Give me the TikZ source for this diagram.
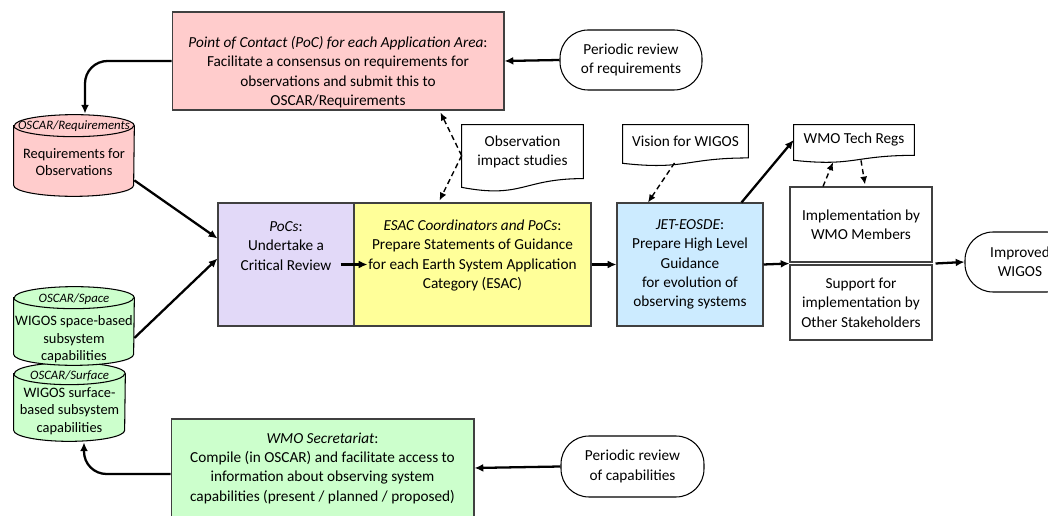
\documentclass[tikz,border=0pt]{standalone}
\usepackage{fontspec}
\setmainfont{Carlito}
\usetikzlibrary{calc,arrows.meta}
\definecolor{pocpink}{HTML}{FFCCCC}
\definecolor{poclilac}{HTML}{E2D9F8}
\definecolor{esacyellow}{HTML}{FFFF99}
\definecolor{jetblue}{HTML}{CCEBFF}
\definecolor{capgreen}{HTML}{CCFFCC}
\definecolor{edgegray}{HTML}{404040}
% document shape (wavy bottom) round a node
\def\docshape(#1)(#2){\draw[docline] (#1.north west) -- (#1.north east) -- (#1.south east) .. controls (#1.south) and ($(#1.south)+(0,#2*0.3055)$) .. ($(#1.south west)+(0,#2*0.132)$) -- cycle;}
% database cylinder round a node
\def\dbcyl[#1](#2)(#3:#4){%
  \draw[#1] ($(#2.north west)+(0,#4)$) -- ($(#2.south west)+(0,-#4)$) arc[start angle=180,end angle=360,x radius=#3,y radius=#4*0.02cm] -- ($(#2.north east)+(0,#4)$) arc[start angle=0,end angle=180,x radius=#3,y radius=#4*0.02cm] -- cycle;
  \draw[#1,fill=none] ($(#2.north west)+(0,#4)$) arc[start angle=180,end angle=360,x radius=#3,y radius=#4*0.02cm];}

\tikzset{
  txt/.style={align=center,inner sep=0pt,font=\fontsize{8.7}{11}\selectfont},
  box/.style={draw=edgegray,line width=0.6pt,inner sep=0pt,align=center,font=\fontsize{8.7}{11}\selectfont},
  stadium/.style={draw=black,line width=0.6pt,fill=white,rounded corners=0.56cm,align=center,font=\fontsize{8.7}{11}\selectfont},
  docnode/.style={inner sep=0pt,align=center,font=\fontsize{8.7}{11}\selectfont},
  docline/.style={draw=black,line width=0.6pt,fill=white},
  cylline/.style={draw=black,line width=0.6pt},
  cyltag/.style={inner sep=0pt,font=\fontsize{7.3}{9}\selectfont\itshape},
  cyltxt/.style={align=center,inner sep=0pt,font=\fontsize{8.2}{10}\selectfont},
  arr/.style={line width=1.3pt,-{Latex[length=5pt,width=4.5pt]}},
  darr/.style={line width=0.8pt,dash pattern=on 3pt off 2pt,-{Latex[length=4.5pt,width=4pt]}}
}

\begin{document}
\begin{tikzpicture}[x=0.02cm,y=-0.02cm]
\useasboundingbox (0,0) rectangle (1048,516);

% boxes
\node[box,fill=pocpink,minimum width=6.64cm,minimum height=1.96cm] (poc) at (338,61) {};
\node[txt] (poctxt) at (338,72) {\textit{Point of Contact (PoC) for each Application Area}:\\Facilitate a consensus on requirements for\\observations and submit this to\\OSCAR/Requirements};
\node[stadium,minimum width=2.84cm,minimum height=1.2cm] (rreq) at (631,60) {Periodic review\\of requirements};

\node[box,fill=poclilac,minimum width=2.72cm,minimum height=2.46cm] (pocs) at (286,264.5) {};
\node[txt] (pocstxt) at (286,246) {\textit{PoCs}:\\Undertake a\\Critical Review};
\node[box,fill=esacyellow,minimum width=4.74cm,minimum height=2.46cm] (esac) at (472.5,264.5) {};
\node[txt] (esactxt) at (472.5,255.5) {\textit{ESAC Coordinators and PoCs}:\\Prepare Statements of Guidance\\for each Earth System Application\\Category (ESAC)};
\node[box,fill=jetblue,minimum width=2.92cm,minimum height=2.46cm] (jet) at (690,264.5) {\textit{JET-EOSDE}:\\Prepare High Level\\Guidance\\for evolution of\\observing systems};

\node[box,fill=white,minimum width=2.84cm,minimum height=1.5cm] (impl) at (861,224.5) {Implementation by\\WMO Members};
\node[box,fill=white,minimum width=2.84cm,minimum height=1.5cm] (supp) at (861,302.5) {Support for\\implementation by\\Other Stakeholders};
\node[stadium,minimum width=2.2cm,minimum height=1.2cm] (impr) at (1020,262) {Improved\\WIGOS};

\node[box,fill=capgreen,minimum width=6.06cm,minimum height=1.96cm] (wmos) at (322.5,468) {\textit{WMO Secretariat}:\\Compile (in OSCAR) and facilitate access to\\information about observing system\\capabilities (present / planned / proposed)};
\node[stadium,minimum width=2.86cm,minimum height=1.22cm] (rcap) at (632.5,466.5) {Periodic review\\of capabilities};

% documents
\node[docnode,minimum width=2.42cm,minimum height=1.066cm] (obs) at (522.5,151.6) {};
\docshape(obs)(66.4)
\node[txt] (obstxt) at (obs.center) {Observation\\impact studies};
\node[docnode,minimum width=2.5cm,minimum height=0.652cm] (vis) at (685.5,141.3) {};
\docshape(vis)(40.7)
\node[txt] (vistxt) at (vis.center) {Vision for WIGOS};
\node[docnode,minimum width=2.4cm,minimum height=0.6cm] (tech) at (854,140) {};
\docshape(tech)(37.5)
\node[txt] (techtxt) at (tech.center) {WMO Tech Regs};

% databases
\node[inner sep=0pt,minimum width=2.4cm,minimum height=1.62cm] (creq) at (74,155.5) {};
\dbcyl[cylline,fill=pocpink](creq)(1.2cm:11)
\node[cyltag] (creqtag) at ($(creq.north)+(0,11)$) {OSCAR/Requirements};
\node[cyltxt] (creqtxt) at (74,162) {Requirements for\\Observations};

\node[inner sep=0pt,minimum width=2.22cm,minimum height=1.56cm] (csurf) at (69.5,402) {};
\dbcyl[cylline,fill=capgreen](csurf)(1.11cm:11)
\node[cyltag] (csurftag) at ($(csurf.north)+(0,13)$) {OSCAR/Surface};
\node[cyltxt] (csurftxt) at (69.5,411) {WIGOS surface-\\based subsystem\\capabilities};

\node[inner sep=0pt,minimum width=2.4cm,minimum height=1.56cm] (cspace) at (74,326) {};
\dbcyl[cylline,fill=capgreen](cspace)(1.2cm:11)
\node[cyltag] (cspacetag) at ($(cspace.north)+(0,12)$) {OSCAR/Space};
\node[cyltxt] (cspacetxt) at (74,339.5) {WIGOS space-based\\subsystem\\capabilities};

% connectors
\draw[arr] (rreq.west) -- (poc.east);
\draw[arr,rounded corners=0.45cm] (poc.west) -| ($(creq.north)+(11,-1)$);
\draw[arr] ($(creq.south east)+(0,-16)$) -- ($(pocs.west)+(0,-26)$);
\draw[arr] ($(cspace.east)+(0,12)$) -- ($(pocs.west)+(0,-6)$);
\draw[arr] ($(pocs.east)+(-14,0)$) -- ($(esac.west)+(14,0)$);
\draw[arr] (esac.east) -- (jet.west);
\draw[arr] (jet.east) -- ($(impl.south west)!0.5!(supp.north west)$);
\draw[arr] ($(impl.south east)!0.5!(supp.north east)+(3,0)$) -- (impr.west);
\draw[arr] ($(jet.north east)+(-22,0)$) -- (tech.west);
\draw[arr] (rcap.west) -- (wmos.east);
\draw[arr,rounded corners=0.45cm] ($(wmos.west)+(0,6)$) -| ($(csurf.south)+(14.5,1)$);

\draw[darr] ($(vis.south)+(-11,5)$) -- ($(jet.north)+(-42,0)$);
\draw[darr] ($(impl.north)+(-38,0)$) -- ($(tech.south)+(-21,7)$);
\draw[darr] ($(tech.south)+(7,5)$) -- ($(impl.north)+(4,-2)$);
\coordinate (obsw) at ($(obs.west)+(0,4)$);
\draw[darr] (obsw) -- ($(poc.south east)+(-64,2)$);
\draw[darr] (obsw) -- ($(esac.north)+(-33,-2)$);
\end{tikzpicture}
\end{document}
